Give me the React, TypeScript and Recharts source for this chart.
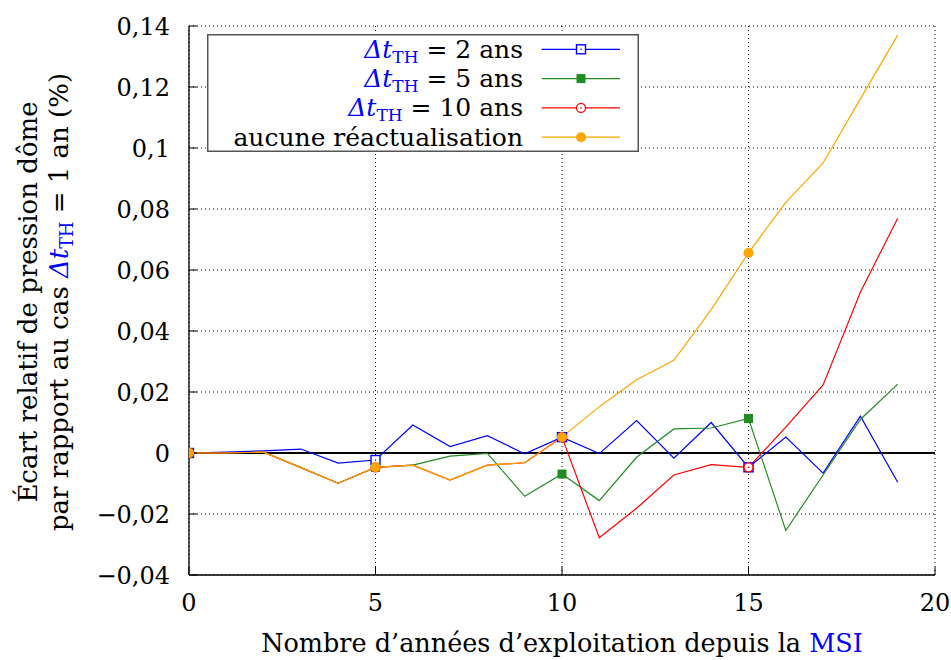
import React from 'react';
import { LineChart, Line, XAxis, YAxis, CartesianGrid, ReferenceLine, Legend } from 'recharts';

const years = [0, 1, 2, 3, 4, 5, 6, 7, 8, 9, 10, 11, 12, 13, 14, 15, 16, 17, 18, 19];
const dt2 = [0, 0.0003, 0.0007, 0.0013, -0.0033, -0.0023, 0.0092, 0.0021, 0.0057, -0.0003, 0.0052, -0.0002, 0.0106, -0.0017, 0.0100, -0.0047, 0.0052, -0.0066, 0.0121, -0.0096];
const dt5 = [0, 0, 0.0003, -0.0048, -0.0099, -0.0047, -0.0040, -0.0010, -0.0001, -0.0142, -0.0069, -0.0156, -0.0014, 0.0079, 0.0082, 0.0113, -0.0254, -0.0072, 0.0110, 0.0226];
const dt10 = [0, 0, 0.0003, -0.0048, -0.0099, -0.0047, -0.0040, -0.0089, -0.0040, -0.0032, 0.0052, -0.0278, -0.0181, -0.0072, -0.0038, -0.0047, 0.0085, 0.0223, 0.0527, 0.0770];
const noUpdate = [0, 0, 0.0003, -0.0048, -0.0099, -0.0047, -0.0040, -0.0089, -0.0040, -0.0032, 0.0052, 0.0152, 0.0240, 0.0304, 0.0470, 0.0656, 0.0822, 0.0951, 0.1161, 0.1370];

const xTicks = [0, 5, 10, 15, 20];
const yTicks = [-0.04, -0.02, 0, 0.02, 0.04, 0.06, 0.08, 0.1, 0.12, 0.14];
const legendNames = ['2 ans', '5 ans', '10 ans', 'aucune réactualisation'];
const markerYears = [0, 5, 10, 15];

const data = years.map((y, i) => ({ year: y, dt2: dt2[i], dt5: dt5[i], dt10: dt10[i], none: noUpdate[i] }));

const FONT = '"DejaVu Serif", serif';
const BLUE = '#0000ff';
const GREEN = '#228b22';
const RED = '#ff0000';
const ORANGE = '#ffa500';

const series = [
  { key: 'dt2', color: BLUE, marker: 'openSquare' },
  { key: 'dt5', color: GREEN, marker: 'filledSquare' },
  { key: 'dt10', color: RED, marker: 'openCircle' },
  { key: 'none', color: ORANGE, marker: 'filledCircle' },
];

function drawMarker(kind: string, color: string, cx: number, cy: number, key?: string) {
  if (kind === 'openSquare') {
    return (
      <g key={key}>
        <rect x={cx - 4.5} y={cy - 4.5} width={9} height={9} fill="#fff" stroke={color} strokeWidth={1.4} />
        <circle cx={cx} cy={cy} r={0.8} fill={color} />
      </g>
    );
  }
  if (kind === 'filledSquare') {
    return <rect key={key} x={cx - 4.5} y={cy - 4.5} width={9} height={9} fill={color} />;
  }
  if (kind === 'openCircle') {
    return (
      <g key={key}>
        <circle cx={cx} cy={cy} r={4.5} fill="#fff" stroke={color} strokeWidth={1.3} />
        <circle cx={cx} cy={cy} r={0.8} fill={color} />
      </g>
    );
  }
  return <circle key={key} cx={cx} cy={cy} r={5} fill={color} />;
}

const makeDot = (kind: string, color: string) => (props: any) => {
  const { cx, cy, index, payload } = props;
  const k = `d-${kind}-${index}`;
  if (!markerYears.includes(payload.year) || cx == null || cy == null) return <g key={k} />;
  return drawMarker(kind, color, cx, cy, k);
};

const fmt = (v: number) => {
  if (Math.abs(v) < 1e-9) return '0';
  const s = String(+Math.abs(v).toFixed(2)).replace('.', ',');
  return (v < 0 ? '\u2212' : '') + s;
};

const DeltaT = ({ size }: { size: number }) => (
  <>
    <tspan fill={BLUE} fontStyle="italic">Δ</tspan>
    <tspan fill={BLUE} fontStyle="italic">t</tspan>
    <tspan fill={BLUE} fontSize={size * 0.68} dy={size * 0.2}>TH</tspan>
  </>
);

const LegendBox = () => {
  const w = 432;
  const h = 118;
  const fs = 25;
  return (
    <svg width={w} height={h} style={{ display: 'block', fontFamily: FONT }}>
      <rect x={0.75} y={0.75} width={w - 1.5} height={h - 1.5} fill="#fff" stroke="#555" strokeWidth={1.5} />
      {series.map((s, i) => {
        const cy = 15.3 + i * 29.3;
        return (
          <g key={s.key}>
            <text x={316} y={cy + 8.5} textAnchor="end" fontSize={fs} fill="#000">
              {i < 3 ? (
                <>
                  <DeltaT size={fs} />
                  <tspan dy={-fs * 0.2}>{' = ' + legendNames[i]}</tspan>
                </>
              ) : (
                legendNames[i]
              )}
            </text>
            <line x1={334.7} x2={413} y1={cy} y2={cy} stroke={s.color} strokeWidth={1.2} />
            {drawMarker(s.marker, s.color, 374, cy)}
          </g>
        );
      })}
    </svg>
  );
};

const YTitle = () => (
  <g style={{ fontFamily: FONT }} fontSize={26} fill="#000">
    <text x={37} y={302} transform="rotate(-90, 37, 302)" textAnchor="middle">
      Écart relatif de pression dôme
    </text>
    <text x={68} y={302} transform="rotate(-90, 68, 302)" textAnchor="middle">
      <tspan>par rapport au cas </tspan>
      <DeltaT size={26} />
      <tspan dy={-26 * 0.2}> = 1 an (%)</tspan>
    </text>
  </g>
);

const XTitle = () => (
  <text x={562} y={652} textAnchor="middle" fontSize={25.5} fill="#000" style={{ fontFamily: FONT }}>
    <tspan>Nombre d’années d’exploitation depuis la </tspan>
    <tspan fill={BLUE}>MSI</tspan>
  </text>
);

const tickStyle = { fontSize: 24, fill: '#000', fontFamily: FONT };

export default function App() {
  return (
    <div style={{ position: 'absolute', left: 0, top: 0, background: '#fff' }}>
      <LineChart width={951} height={660} data={data} margin={{ top: 26, right: 16, left: 109, bottom: 45 }}>
        <CartesianGrid stroke="#000" strokeDasharray="1 3" strokeWidth={1} />
        <XAxis
          dataKey="year"
          type="number"
          domain={[0, 20]}
          ticks={xTicks}
          allowDataOverflow
          height={40}
          tickSize={-8}
          tickMargin={27}
          tick={tickStyle}
          stroke="#000"
          axisLine={{ stroke: '#000', strokeWidth: 1.3 }}
          tickLine={{ stroke: '#000' }}
          label={{ content: XTitle }}
        />
        <XAxis
          xAxisId="top"
          orientation="top"
          type="number"
          domain={[0, 20]}
          ticks={xTicks}
          allowDataOverflow
          height={0}
          tickSize={-8}
          tickFormatter={() => ''}
          stroke="#000"
          axisLine={{ stroke: '#000', strokeWidth: 1.3 }}
          tickLine={{ stroke: '#000' }}
        />
        <YAxis
          type="number"
          domain={[-0.04, 0.14]}
          ticks={yTicks}
          allowDataOverflow
          width={80}
          tickSize={-8}
          tickMargin={27}
          tick={tickStyle}
          tickFormatter={fmt}
          stroke="#000"
          axisLine={{ stroke: '#000', strokeWidth: 1.3 }}
          tickLine={{ stroke: '#000' }}
          label={{ content: YTitle }}
        />
        <YAxis
          yAxisId="right"
          orientation="right"
          type="number"
          domain={[-0.04, 0.14]}
          ticks={yTicks}
          allowDataOverflow
          width={0}
          tickSize={-8}
          tickFormatter={() => ''}
          stroke="#000"
          axisLine={{ stroke: '#000', strokeWidth: 1.3 }}
          tickLine={{ stroke: '#000' }}
        />
        <ReferenceLine y={0} stroke="#000" strokeWidth={2} />
        {series.map((s) => (
          <Line
            key={s.key}
            type="linear"
            dataKey={s.key}
            stroke={s.color}
            strokeWidth={1.2}
            dot={makeDot(s.marker, s.color)}
            activeDot={false}
            isAnimationActive={false}
          />
        ))}
        <Legend
          verticalAlign="middle"
          align="center"
          layout="horizontal"
          wrapperStyle={{ left: 207, top: 34, width: 432, height: 118 }}
          content={LegendBox}
        />
      </LineChart>
    </div>
  );
}
